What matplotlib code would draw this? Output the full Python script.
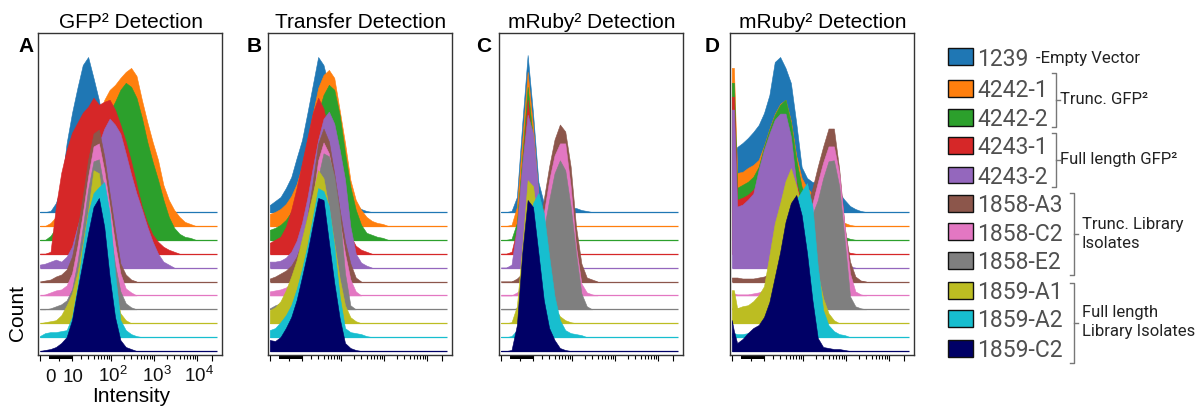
import numpy as np
import matplotlib
matplotlib.use("Agg")
import matplotlib.pyplot as plt
from matplotlib.patches import Rectangle
from matplotlib.lines import Line2D

plt.rcParams['font.family'] = ['Liberation Sans', 'DejaVu Sans']
plt.rcParams['mathtext.fontset'] = 'custom'
plt.rcParams['mathtext.rm'] = 'Liberation Sans'
plt.rcParams['mathtext.it'] = 'Liberation Sans:italic'
plt.rcParams['mathtext.bf'] = 'Liberation Sans:bold'

# ---------------- data ----------------
SAMPLES = ['1239', '4242-1', '4242-2', '4243-1', '4243-2', '1858-A3', '1858-C2',
           '1858-E2', '1859-A1', '1859-A2', '1859-C2']
COLORS = ['#1f77b4', '#ff7f0e', '#2ca02c', '#d62728', '#9467bd', '#8c564b',
          '#e377c2', '#7f7f7f', '#bcbd22', '#17becf', '#000066']
TITLES = ['GFP² Detection', 'Transfer Detection', 'mRuby² Detection', 'mRuby² Detection']
LETTERS = ['A', 'B', 'C', 'D']

# display position of bins (log-scaled intensity, shifted)
GRID = [0.25, 0.375, 0.5, 0.625, 0.75, 0.875, 1.0, 1.125, 1.25, 1.375, 1.5, 1.625,
        1.75, 1.875, 2.0, 2.125, 2.25, 2.375, 2.5, 2.625, 2.75, 2.875, 3.0, 3.125,
        3.25, 3.375, 3.5, 3.625, 3.75, 3.875]
GRID_D = [0.25, 0.3] + GRID[1:]

# Panel A: GFP2 detection
a_1239 = [0, 0, 1, 9, 25, 69, 99, 124, 147, 155, 134, 112, 85, 62, 42, 25, 14, 7, 3, 0]
a_4242_1 = [0, 0, 3, 9, 20, 35, 50, 62, 75, 90, 100, 110, 126, 136, 141, 148, 154, 158, 150,
            126, 104, 84, 66, 41, 26, 16, 9, 4, 2, 0]
a_4242_2 = [0, 0, 4, 12, 20, 33, 45, 57, 68, 80, 92, 105, 118, 128, 138, 150, 157, 153, 142,
            122, 98, 78, 60, 40, 23, 12, 6, 3, 2, 0]
a_4243_1 = [0, 0, 2, 47, 81, 104, 121, 131, 141, 147, 156, 149, 152, 154, 144, 129, 112, 92,
            69, 47, 31, 19, 12, 7, 4, 2, 0]
a_4243_2 = [3, 4, 6, 8, 6, 11, 21, 41, 61, 81, 104, 124, 139, 149, 143, 134, 114, 93, 74, 58,
            41, 26, 14, 6, 3, 0]
a_1858_A3 = [0, 1, 2, 5, 7, 12, 25, 52, 85, 122, 148, 152, 125, 88, 52, 18, 7, 2, 0]
a_1858_C2 = [0, 1, 3, 5, 6, 10, 22, 49, 82, 119, 149, 152, 125, 89, 52, 22, 7, 3, 0]
a_1858_E2 = [0, 0, 1, 3, 5, 9, 20, 47, 82, 120, 148, 150, 120, 82, 45, 18, 6, 2, 0]
a_1859_A1 = [0, 1, 2, 3, 8, 18, 30, 50, 80, 113, 153, 150, 110, 70, 33, 10, 3, 0]
a_1859_A2 = [1, 4, 5, 5, 6, 7, 20, 50, 90, 124, 144, 150, 155, 124, 64, 17, 7, 3, 1, 0]
a_1859_C2 = [0, 1, 2, 4, 8, 14, 31, 61, 89, 118, 144, 153, 124, 74, 34, 11, 4, 2, 0]

# Panel B: transfer detection
b_1239 = [7, 11, 15, 24, 35, 54, 72, 99, 127, 155, 147, 125, 95, 65, 39, 19, 7, 3, 1, 0]
b_4242_1 = [12, 14, 17, 22, 30, 42, 60, 85, 112, 138, 151, 156, 148, 116, 83, 46, 26, 16, 9,
            5, 3, 2, 0]
b_4242_2 = [10, 12, 15, 20, 28, 40, 55, 78, 102, 127, 145, 155, 150, 125, 87, 53, 30, 15, 7,
            5, 3, 2, 0]
b_4243_1 = [11, 14, 17, 27, 44, 66, 91, 116, 141, 156, 145, 120, 90, 60, 35, 18, 8, 4, 2, 0]
b_4243_2 = [6, 6, 7, 10, 16, 27, 45, 70, 100, 128, 149, 156, 144, 118, 88, 41, 14, 5, 2, 0]
b_1858_A3 = [3, 5, 8, 11, 16, 25, 40, 65, 100, 138, 153, 140, 108, 72, 40, 18, 4, 0]
b_1858_C2 = [4, 5, 6, 8, 12, 20, 35, 60, 96, 135, 153, 142, 112, 75, 42, 16, 4, 0]
b_1858_E2 = [1, 4, 6, 8, 12, 20, 35, 60, 96, 132, 156, 153, 133, 96, 36, 4, 0]
b_1859_A1 = [13, 16, 22, 33, 47, 63, 85, 107, 130, 153, 145, 115, 80, 45, 18, 6, 2, 0]
b_1859_A2 = [7, 9, 15, 22, 32, 48, 68, 92, 120, 149, 146, 131, 91, 41, 9, 5, 4, 3, 1, 0]
b_1859_C2 = [11, 10, 14, 23, 34, 51, 74, 98, 126, 153, 151, 109, 68, 33, 8, 3, 1, 0]

# Panel C: mRuby2 detection
c_1239 = [0, 0, 1, 15, 89, 157, 99, 30, 9, 4, 3, 3, 3, 4, 4, 2, 1, 0]
c_4242_1 = [0, 0, 1, 19, 86, 154, 99, 30, 8, 3, 1, 0]
c_4242_2 = [0, 0, 1, 17, 83, 153, 100, 30, 8, 3, 1, 0]
c_4243_1 = [0, 0, 2, 24, 87, 154, 100, 32, 9, 3, 1, 0]
c_4243_2 = [0, 0, 3, 41, 104, 153, 134, 74, 28, 8, 3, 1, 0]
c_1858_A3 = [0, 0, 0, 3, 8, 15, 28, 52, 82, 115, 142, 157, 150, 115, 55, 18, 4, 2, 0]
c_1858_C2 = [0, 0, 0, 3, 7, 14, 28, 52, 82, 115, 140, 152, 152, 109, 49, 12, 3, 1, 0]
c_1858_E2 = [0, 0, 0, 1, 3, 8, 20, 50, 79, 109, 136, 149, 139, 103, 56, 16, 3, 0]
c_1859_A1 = [0, 0, 1, 17, 77, 143, 137, 97, 57, 30, 15, 7, 3, 1, 0]
c_1859_A2 = [0, 0, 1, 7, 54, 104, 134, 144, 124, 81, 41, 17, 7, 4, 3, 2, 0]
c_1859_C2 = [0, 0, 1, 26, 98, 151, 144, 98, 51, 23, 11, 3, 1, 0]

# Panel D: mRuby2 detection (second condition)
d_1239 = [59, 59, 65, 69, 74, 80, 87, 99, 117, 150, 155, 144, 129, 89, 45, 34, 30, 30, 29, 28,
          25, 19, 12, 6, 3, 1, 0]
d_4242_1 = [158, 158, 53, 54, 58, 61, 66, 80, 97, 112, 122, 126, 105, 70, 48, 38, 32, 27, 21,
            16, 11, 7, 3, 1, 0]
d_4242_2 = [157, 157, 52, 55, 58, 63, 73, 93, 110, 125, 135, 140, 117, 80, 53, 40, 33, 27, 20,
            15, 10, 6, 3, 1, 0]
d_4243_1 = [157, 157, 54, 56, 59, 64, 72, 88, 103, 116, 124, 126, 106, 72, 48, 36, 30, 25, 19,
            14, 9, 6, 3, 1, 0]
d_4243_2 = [158, 158, 61, 63, 68, 74, 98, 118, 134, 148, 154, 154, 131, 84, 51, 38, 32, 27, 21,
            16, 11, 7, 4, 1, 0]
d_1858_A3 = [4, 4, 4, 3, 3, 3, 4, 5, 8, 12, 18, 25, 35, 50, 62, 78, 93, 115, 135, 153, 153, 112,
             55, 20, 5, 1, 0]
d_1858_C2 = [2, 2, 1, 1, 1, 2, 3, 5, 8, 12, 18, 25, 34, 46, 60, 75, 92, 113, 133, 149, 149, 122,
             69, 22, 4, 1, 0]
d_1858_E2 = [1, 1, 1, 1, 1, 2, 3, 5, 8, 12, 18, 26, 36, 50, 64, 80, 95, 109, 131, 148, 149, 123,
             69, 13, 3, 1, 0]
d_1859_A1 = [33, 33, 15, 17, 18, 22, 28, 37, 68, 100, 120, 142, 155, 137, 117, 100, 75, 50, 25,
             10, 3, 0]
d_1859_A2 = [4, 4, 3, 3, 4, 6, 10, 18, 30, 50, 75, 100, 125, 137, 146, 154, 131, 71, 27, 12, 6,
             3, 2, 0]
d_1859_C2 = [31, 20, 8, 12, 18, 23, 26, 34, 49, 74, 99, 129, 148, 156, 136, 98, 51, 13, 4, 3, 2,
             2, 1, 0]

PANELS = [
    (GRID, [a_1239, a_4242_1, a_4242_2, a_4243_1, a_4243_2, a_1858_A3, a_1858_C2, a_1858_E2,
            a_1859_A1, a_1859_A2, a_1859_C2]),
    (GRID, [b_1239, b_4242_1, b_4242_2, b_4243_1, b_4243_2, b_1858_A3, b_1858_C2, b_1858_E2,
            b_1859_A1, b_1859_A2, b_1859_C2]),
    (GRID, [c_1239, c_4242_1, c_4242_2, c_4243_1, c_4243_2, c_1858_A3, c_1858_C2, c_1858_E2,
            c_1859_A1, c_1859_A2, c_1859_C2]),
    (GRID_D, [d_1239, d_4242_1, d_4242_2, d_4243_1, d_4243_2, d_1858_A3, d_1858_C2, d_1858_E2,
              d_1859_A1, d_1859_A2, d_1859_C2]),
]

TICK_LABELS = ['0', '10', r'$\mathregular{10^2}$', r'$\mathregular{10^3}$', r'$\mathregular{10^4}$']
TICK_LABEL_POS = [0.49, 1.03, 1.95, 2.97, 3.95]

GROUPS = [('-Empty Vector', [0]), ('Trunc. GFP²', [1, 2]), ('Full length GFP²', [3, 4]),
          ('Trunc. Library\nIsolates', [5, 6, 7]), ('Full length\nLibrary Isolates', [8, 9, 10])]

# ---------------- layout ----------------
W, H = 1203, 408
fig = plt.figure(figsize=(W / 100, H / 100), dpi=100)


def fx(x):
    return x / W


def fy(y):
    return 1 - y / H


PANEL_LEFT = [38, 268, 499, 730]
BOX_TOP, BOX_BOT, BOX_W = 33, 355, 184
BOX_H = BOX_BOT - BOX_TOP
STEP = 13.9
LINE_X = (0.256, 4.38)
SHIFT = 0.1
major_ticks = [0.256, 0.7, 1.0, 2 - SHIFT, 3 - SHIFT, 4 - SHIFT, 4.25]
minor_ticks = [np.log10(m * 10 ** d) - SHIFT for d in (1, 2, 3) for m in range(2, 10)]
BLOCK = (0.47, 1.0)

for p, ((grid, series), left) in enumerate(zip(PANELS, PANEL_LEFT)):
    ax = fig.add_axes([fx(left), fy(BOX_BOT), BOX_W / W, BOX_H / H])
    n = len(series)
    for k, (vals, col) in enumerate(zip(series, COLORS)):
        x = np.array(grid[:len(vals)])
        h = np.array(vals, dtype=float)
        off = (n - 1 - k) * STEP
        z = 2 + 2 * k
        ax.fill_between(x, off, off + h, facecolor=col, edgecolor=col, lw=0.4, zorder=z)
        ax.plot(LINE_X, [off, off], color=col, lw=0.9, zorder=z + 1, solid_capstyle='butt')
    ax.set_xlim(0.209, 4.488)
    ax.set_ylim(-4, 318)
    ax.set_yticks([])
    ax.set_xticks(major_ticks)
    ax.set_xticks(minor_ticks, minor=True)
    ax.tick_params(axis='x', which='major', length=4.3, width=0.8, color='black',
                   labelbottom=False)
    ax.tick_params(axis='x', which='minor', length=2.9, width=0.8, color='black')
    # dense linear-region tick block near zero
    ax.add_patch(Rectangle((BLOCK[0], -4.0 / BOX_H), BLOCK[1] - BLOCK[0], 4.0 / BOX_H,
                           transform=ax.get_xaxis_transform(), facecolor='black',
                           edgecolor='none', clip_on=False))
    for s in ax.spines.values():
        s.set_color('#333333')
        s.set_linewidth(1.0)
    if p == 0:
        for pos, lab in zip(TICK_LABEL_POS, TICK_LABELS):
            ax.text(pos, (BOX_BOT - 381.5) / BOX_H, lab,
                    transform=ax.get_xaxis_transform(), ha='center', va='baseline',
                    fontsize=13.5, color='#111111')
    cx = left + BOX_W / 2
    fig.text(fx(cx + 1), fy(28), TITLES[p], ha='center', va='baseline', fontsize=15)

LETTER_X = [26, 254, 484, 712]
for lx, L in zip(LETTER_X, LETTERS):
    fig.text(fx(lx), fy(52), L, ha='center', va='baseline', fontsize=15,
             fontweight='bold')

fig.text(fx(17), fy(313), 'Count', rotation=90, ha='center', va='center', fontsize=15)
fig.text(fx(131), fy(402.5), 'Intensity', ha='center', va='baseline', fontsize=15)

# ---------------- legend ----------------
ROW_Y = [56.7, 88.3, 117.3, 145, 175, 203.3, 231.7, 260, 290, 318.3, 348.3]
LEG_FONT = ['Roboto', 'DejaVu Sans']
for name, col, y in zip(SAMPLES, COLORS, ROW_Y):
    fig.patches.append(Rectangle((fx(948.5), fy(y + 8.5)), 25 / W, 17 / H,
                                 transform=fig.transFigure, facecolor=col,
                                 edgecolor='#111111', lw=1.0))
    fig.text(fx(977), fy(y), name, ha='left', va='center_baseline', fontsize=16.5,
             color='#505050', family=LEG_FONT)

# group annotations
fig.text(fx(1036), fy(56.7), GROUPS[0][0], ha='left', va='center_baseline', fontsize=12,
         color='#222222', family=LEG_FONT)

BRACKETS = [(1056, 73.3, 126.7, 1060, 100), (1056, 133.3, 187, 1060, 160),
            (1074, 193.3, 275, 1081.5, 234), (1074, 283, 363, 1081.5, 322)]
for (bx, y0, y1, tx, ty), (label, _) in zip(BRACKETS, GROUPS[1:]):
    mid = (y0 + y1) / 2
    xs = [fx(bx - 4), fx(bx), fx(bx), fx(bx - 4)]
    ys = [fy(y0), fy(y0), fy(y1), fy(y1)]
    fig.add_artist(Line2D(xs, ys, color='#777777', lw=1.0, transform=fig.transFigure))
    fig.add_artist(Line2D([fx(bx), fx(bx + 4)], [fy(mid), fy(mid)], color='#777777', lw=1.0,
                          transform=fig.transFigure))
    fig.text(fx(tx), fy(ty), label, ha='left', va='center', fontsize=12, color='#222222',
             family=LEG_FONT, linespacing=1.3)

fig.savefig('out.png', dpi=100)
